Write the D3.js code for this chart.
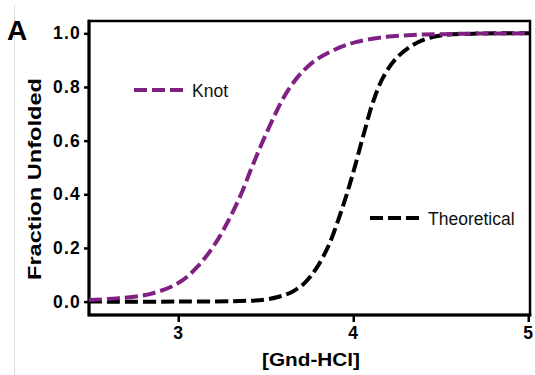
<!DOCTYPE html>
<html>
<head>
<meta charset="utf-8">
<script src="https://cdn.jsdelivr.net/npm/d3@7"></script>
<style>
  body { margin: 0; background: #fff; }
  svg { font-family: "Liberation Sans", Arial, sans-serif; }
</style>
</head>
<body>
<svg id="chart" width="535" height="375"></svg>
<script>
// values
const knotX = [2.49, 2.65, 2.83, 3.0, 3.11, 3.21, 3.29, 3.36, 3.42, 3.47, 3.53, 3.6, 3.68, 3.77, 3.89, 4.02, 4.19, 4.34, 4.5, 4.7, 5.01];
const knotY = [0.006, 0.012, 0.027, 0.069, 0.13, 0.215, 0.306, 0.402, 0.5, 0.578, 0.665, 0.758, 0.835, 0.893, 0.938, 0.968, 0.987, 0.994, 0.997, 0.999, 1.0];
const theoX = [2.49, 3.0, 3.4, 3.5, 3.58, 3.65, 3.72, 3.79, 3.86, 3.92, 3.97, 4.01, 4.06, 4.11, 4.17, 4.25, 4.34, 4.42, 4.5, 4.7, 5.01];
const theoY = [0, 0.0, 0.003, 0.008, 0.019, 0.036, 0.068, 0.125, 0.21, 0.315, 0.415, 0.505, 0.625, 0.738, 0.835, 0.91, 0.956, 0.98, 0.992, 0.999, 1.0];
const xTicks = [3, 4, 5];
const yTicks = [0, 0.2, 0.4, 0.6, 0.8, 1.0];

const purple = "#7f2182";

const svg = d3.select("#chart");
const mLeft = 89, mRight = 530, mTop = 21, mBottom = 315;

const x = d3.scaleLinear().domain([2.49, 5.01]).range([mLeft, mRight]);
const y = d3.scaleLinear().domain([-0.05, 1.046]).range([mBottom, mTop]);

// thin grey rule at the left edge of the panel
svg.append("line")
    .attr("x1", 14.5).attr("x2", 14.5)
    .attr("y1", 5).attr("y2", 375)
    .attr("stroke", "#dcdcdc").attr("stroke-width", 1);

// panel letter
svg.append("text")
    .attr("x", 7).attr("y", 40)
    .attr("font-size", 28).attr("font-weight", "bold")
    .text("A");

// axes
const yAxis = svg.append("g")
    .attr("transform", `translate(${mLeft},0)`)
    .call(d3.axisLeft(y).tickValues(yTicks).tickFormat(d3.format(".1f")).tickSize(5).tickPadding(3).tickSizeOuter(0));
const xAxis = svg.append("g")
    .attr("transform", `translate(0,${mBottom})`)
    .call(d3.axisBottom(x).tickValues(xTicks).tickFormat(d3.format("d")).tickSize(7).tickPadding(5).tickSizeOuter(0));

[yAxis, xAxis].forEach(g => {
    g.select(".domain").remove();
    g.selectAll(".tick line").attr("stroke", "#000").attr("stroke-width", 2.5);
    g.selectAll(".tick text")
        .attr("fill", "#000")
        .attr("font-family", "'Liberation Sans', Arial, sans-serif")
        .attr("font-size", 17.5)
        .attr("font-weight", "bold")
        .attr("letter-spacing", 1.2);
});

// frame
svg.append("rect")
    .attr("x", mLeft).attr("y", mTop)
    .attr("width", mRight - mLeft).attr("height", mBottom - mTop)
    .attr("fill", "none").attr("stroke", "#000").attr("stroke-width", 2.5);
svg.append("path")
    .attr("d", `M${mLeft},${mTop - 1.25}V${mBottom}H${mRight + 1.25}`)
    .attr("fill", "none").attr("stroke", "#000").attr("stroke-width", 3);

// axis titles
svg.append("text")
    .attr("x", 311).attr("y", 366)
    .attr("text-anchor", "middle")
    .attr("font-size", 18).attr("font-weight", "bold")
    .attr("textLength", 98).attr("lengthAdjust", "spacingAndGlyphs")
    .text("[Gnd-HCl]");
svg.append("text")
    .attr("transform", "translate(41,179) rotate(-90)")
    .attr("text-anchor", "middle")
    .attr("font-size", 18.5).attr("font-weight", "bold")
    .attr("textLength", 202).attr("lengthAdjust", "spacingAndGlyphs")
    .text("Fraction Unfolded");

// curves
const line = d3.line()
    .x(d => x(d[0]))
    .y(d => y(d[1]))
    .curve(d3.curveCatmullRom.alpha(0.5));

const theo = theoX.map((v, i) => [v, theoY[i]]);
const knot = knotX.map((v, i) => [v, knotY[i]]);

svg.append("path")
    .datum(theo)
    .attr("d", line)
    .attr("fill", "none")
    .attr("stroke", "#000")
    .attr("stroke-width", 4)
    .attr("stroke-dasharray", "13,5");

svg.append("path")
    .datum(knot)
    .attr("d", line)
    .attr("fill", "none")
    .attr("stroke", purple)
    .attr("stroke-width", 4)
    .attr("stroke-dasharray", "13,5");

// legends
const legends = [
    { name: "Knot", color: purple, x: 134, y: 90 },
    { name: "Theoretical", color: "#000", x: 370, y: 218 }
];
legends.forEach(l => {
    svg.append("line")
        .attr("x1", l.x).attr("x2", l.x + 49)
        .attr("y1", l.y).attr("y2", l.y)
        .attr("stroke", l.color).attr("stroke-width", 4)
        .attr("stroke-dasharray", "13,5");
    svg.append("text")
        .attr("x", l.x + 58).attr("y", l.y + 7)
        .attr("font-size", 17.5)
        .attr("fill", "#111")
        .text(l.name);
});
</script>
</body>
</html>
